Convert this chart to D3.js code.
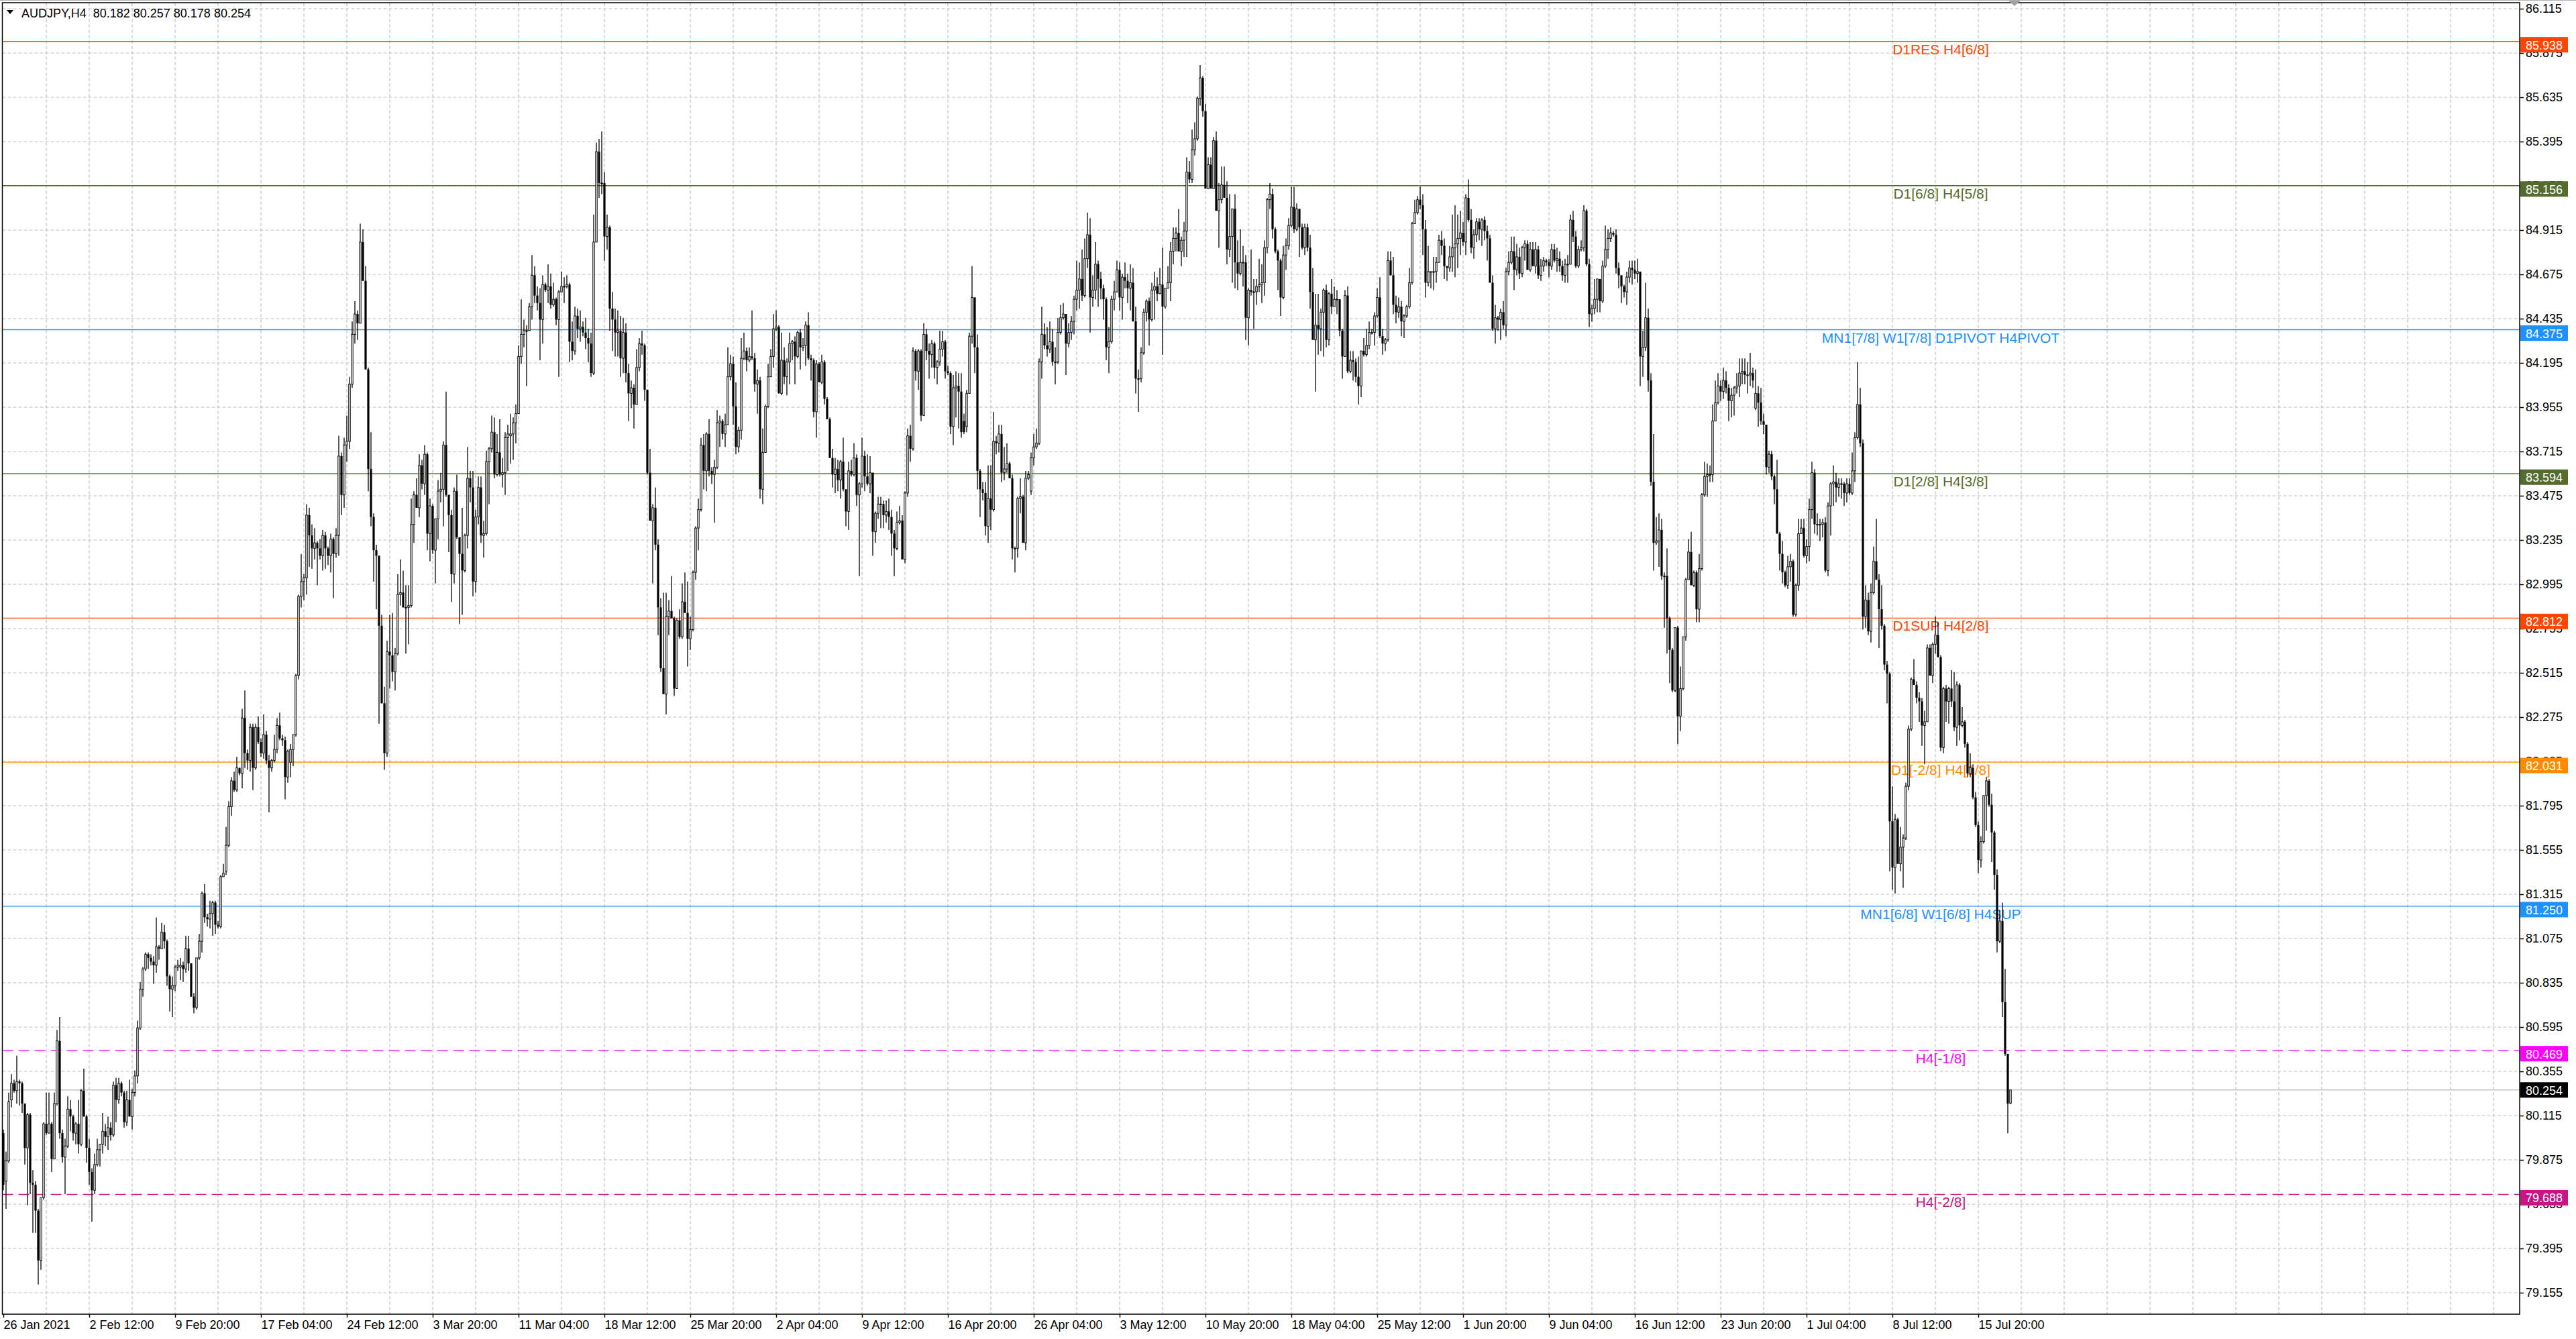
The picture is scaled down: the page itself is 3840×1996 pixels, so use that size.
<!DOCTYPE html>
<html>
<head>
<meta charset="utf-8">
<script src="https://cdn.jsdelivr.net/npm/d3@7"></script>
<style>
  body { margin: 0; background: #fff; }
  svg text { font-family: "Liberation Sans", Arial, sans-serif; }
</style>
</head>
<body>
<svg id="chart" width="3840" height="1996"></svg>
<script>
// AUDJPY H4 candles, [open, high, low, close], 26 Jan 2021 -> 19 Jul 2021
const candles = [
  // 0-106
  [80.02,80.04,79.71,79.74],[79.76,79.92,79.61,79.87],[79.87,80.24,79.86,80.19],[80.20,80.34,80.16,80.29],[80.29,80.31,80.24,80.25],
  [80.25,80.44,80.18,80.30],[80.30,80.31,80.17,80.29],[80.29,80.30,80.13,80.18],[80.18,80.18,79.85,79.94],[79.94,80.13,79.63,80.12],
  [80.12,80.13,79.69,79.75],[79.75,79.82,79.48,79.74],[79.74,79.76,79.48,79.60],[79.60,79.61,79.20,79.33],[79.33,79.67,79.28,79.67],
  [79.67,80.08,79.66,80.07],[80.07,80.24,80.01,80.02],[80.02,80.24,80.02,80.07],[80.07,80.08,79.81,79.88],[79.88,80.24,79.88,80.18],
  [80.18,80.58,80.17,80.52],[80.52,80.65,79.99,80.02],[80.02,80.04,79.86,79.89],[79.89,79.99,79.69,79.95],[79.95,80.22,79.94,80.15],
  [80.15,80.20,80.03,80.11],[80.11,80.12,79.98,80.02],[80.02,80.08,79.96,80.07],[80.07,80.20,79.91,79.96],[79.96,80.26,79.95,80.25],
  [80.25,80.37,80.11,80.11],[80.11,80.12,79.86,79.94],[79.94,79.99,79.74,79.81],[79.81,79.83,79.54,79.71],[79.71,79.91,79.69,79.85],
  [79.85,79.99,79.84,79.93],[79.93,79.96,79.84,79.96],[79.96,80.13,79.91,80.03],[80.03,80.07,79.95,80.00],[80.00,80.11,79.93,80.05],
  [80.05,80.08,79.98,80.01],[80.01,80.30,80.00,80.28],[80.28,80.32,80.08,80.20],[80.20,80.32,80.18,80.29],[80.29,80.30,80.22,80.24],
  [80.24,80.25,80.05,80.08],[80.08,80.25,80.06,80.20],[80.20,80.31,80.11,80.11],[80.11,80.26,80.04,80.24],[80.24,80.36,80.22,80.33],
  [80.33,80.63,80.29,80.59],[80.59,80.84,80.58,80.80],[80.80,80.92,80.76,80.91],[80.91,81.00,80.90,80.99],[80.99,81.00,80.91,80.97],
  [80.97,80.99,80.93,80.95],[80.95,80.98,80.83,80.93],[80.93,81.19,80.89,81.03],[81.03,81.04,80.96,81.02],[81.02,81.16,81.02,81.11],
  [81.11,81.15,81.02,81.06],[81.06,81.07,80.82,80.87],[80.87,80.88,80.68,80.80],[80.80,80.87,80.65,80.82],[80.82,80.93,80.79,80.92],
  [80.92,80.96,80.90,80.93],[80.92,80.97,80.85,80.93],[80.93,80.95,80.84,80.91],[80.91,81.09,80.89,81.02],[81.02,81.09,80.90,80.94],
  [80.94,80.94,80.76,80.76],[80.76,80.78,80.67,80.70],[80.70,80.97,80.69,80.97],[80.97,81.10,80.96,81.06],[81.06,81.33,81.00,81.32],
  [81.32,81.37,81.16,81.19],[81.19,81.21,81.14,81.18],[81.18,81.28,81.13,81.21],[81.21,81.28,81.09,81.27],[81.27,81.28,81.10,81.15],
  [81.15,81.17,81.13,81.14],[81.14,81.42,81.13,81.41],[81.41,81.48,81.41,81.43],[81.44,81.68,81.42,81.58],[81.58,81.82,81.57,81.79],
  [81.79,81.95,81.74,81.93],[81.93,81.98,81.87,81.88],[81.88,82.06,81.87,82.00],[82.00,82.00,81.96,81.97],[81.97,82.32,81.89,82.27],
  [82.27,82.42,82.00,82.08],[82.08,82.10,81.99,82.04],[82.04,82.24,81.98,82.22],[82.22,82.24,81.88,82.00],[82.00,82.24,81.99,82.22],
  [82.22,82.28,82.13,82.14],[82.14,82.16,82.06,82.08],[82.08,82.29,82.05,82.18],[82.18,82.20,82.02,82.04],[82.04,82.07,81.76,82.00],
  [82.00,82.05,81.98,82.04],[82.04,82.18,82.03,82.10],[82.10,82.27,82.08,82.23],[82.23,82.30,82.15,82.16],[82.16,82.18,82.12,82.15],
  [82.15,82.17,81.83,81.95],[81.95,82.10,81.92,82.09],
  // 107-213
  [82.03,82.13,81.95,82.10],[82.10,82.18,82.01,82.18],[82.18,82.51,82.17,82.50],[82.50,82.94,82.48,82.93],[82.93,83.16,82.87,83.01],
  [83.01,83.05,82.91,83.03],[83.03,83.43,82.94,83.37],[83.37,83.41,83.09,83.26],[83.26,83.32,83.08,83.19],[83.19,83.30,83.13,83.22],
  [83.22,83.23,82.99,83.19],[83.19,83.24,83.13,83.15],[83.15,83.29,83.07,83.26],[83.26,83.28,83.08,83.19],[83.19,83.20,83.10,83.15],
  [83.15,83.27,83.06,83.24],[83.24,83.25,82.92,83.16],[83.16,83.30,83.14,83.26],[83.26,83.80,83.15,83.69],[83.69,83.71,83.37,83.48],
  [83.48,83.79,83.41,83.75],[83.75,83.91,83.66,83.77],[83.77,84.12,83.73,84.08],[84.08,84.42,84.06,84.35],[84.35,84.53,84.30,84.46],
  [84.46,84.48,84.32,84.41],[84.41,84.95,84.41,84.85],[84.85,84.92,84.64,84.64],[84.64,84.72,84.16,84.16],[84.16,84.17,83.50,83.62],
  [83.62,83.82,83.31,83.36],[83.36,83.38,83.01,83.18],[83.18,83.21,82.86,83.15],[83.15,83.15,82.24,82.77],[82.77,82.83,82.35,82.35],
  [82.35,82.44,81.99,82.08],[82.08,82.69,82.06,82.63],[82.63,82.83,82.43,82.61],[82.61,82.84,82.47,82.52],[82.52,82.65,82.42,82.62],
  [82.62,83.05,82.61,82.94],[82.94,83.13,82.88,82.95],[82.95,83.07,82.87,82.87],[82.87,82.99,82.62,82.87],[82.87,82.99,82.67,82.88],
  [82.88,83.46,82.87,83.32],[83.32,83.50,83.22,83.48],[83.48,83.57,83.41,83.41],[83.41,83.70,83.36,83.64],[83.64,83.67,83.51,83.54],
  [83.54,83.75,83.48,83.70],[83.70,83.71,83.18,83.27],[83.27,83.46,83.12,83.42],[83.42,83.43,83.16,83.18],[83.18,83.20,83.00,83.35],
  [83.35,83.56,83.24,83.50],[83.50,83.60,83.44,83.51],[83.51,83.77,83.31,83.75],[83.75,84.04,83.47,83.48],[83.48,83.48,83.17,83.37],
  [83.37,83.40,82.90,83.05],[83.05,83.52,83.00,83.50],[83.50,83.59,83.24,83.25],[83.25,83.25,82.78,83.16],[83.16,83.41,82.83,83.07],
  [83.07,83.27,83.06,83.26],[83.26,83.74,83.19,83.57],[83.57,83.61,83.44,83.52],[83.52,83.61,82.93,83.01],[83.01,83.40,82.95,83.36],
  [83.36,83.58,83.32,83.52],[83.52,83.58,83.22,83.26],[83.26,83.34,83.14,83.27],[83.27,83.72,83.26,83.66],[83.66,83.74,83.43,83.73],
  [83.73,83.91,83.71,83.82],[83.82,83.90,83.57,83.59],[83.59,83.81,83.58,83.71],[83.71,83.89,83.58,83.59],[83.59,83.68,83.52,83.60],
  [83.60,83.82,83.48,83.79],[83.79,83.86,83.61,83.81],[83.80,83.92,83.65,83.81],[83.81,83.90,83.67,83.87],[83.87,83.97,83.76,83.92],
  [83.92,84.29,83.92,84.23],[84.23,84.54,84.19,84.35],[84.35,84.43,84.28,84.37],[84.37,84.40,84.07,84.37],[84.37,84.52,84.37,84.50],
  [84.50,84.78,84.43,84.67],[84.67,84.72,84.52,84.56],[84.56,84.61,84.48,84.52],[84.52,84.60,84.21,84.43],[84.43,84.67,84.30,84.62],
  [84.62,84.63,84.58,84.59],[84.59,84.73,84.52,84.61],[84.61,84.68,84.49,84.51],[84.51,84.63,84.50,84.54],[84.54,84.55,84.40,84.43],
  [84.43,84.59,84.12,84.58],[84.58,84.69,84.58,84.61],[84.61,84.66,84.52,84.61],[84.61,84.67,84.60,84.62],[84.62,84.63,84.20,84.31],
  [84.31,84.42,84.21,84.26],[84.26,84.50,84.24,84.45],
  // 214-320
  [84.45,84.49,84.33,84.38],[84.38,84.48,84.31,84.39],[84.39,84.42,84.34,84.36],[84.36,84.44,84.27,84.33],[84.33,84.38,84.20,84.30],
  [84.30,84.36,84.12,84.14],[84.14,85.00,84.13,84.85],[84.85,85.39,84.85,85.34],[85.34,85.41,85.09,85.17],[85.17,85.45,85.11,85.17],
  [85.17,85.23,84.75,84.88],[84.88,85.00,84.81,84.93],[84.93,84.94,84.37,84.49],[84.49,84.58,84.26,84.43],[84.43,84.49,84.23,84.36],
  [84.36,84.48,84.23,84.37],[84.37,84.45,84.12,84.22],[84.22,84.44,84.14,84.36],[84.36,84.41,84.09,84.14],[84.14,84.19,83.88,84.03],
  [84.03,84.10,83.95,84.06],[84.06,84.08,83.84,83.97],[83.97,84.27,83.97,84.17],[84.17,84.33,84.15,84.30],[84.30,84.37,84.24,84.29],
  [84.29,84.30,83.99,84.05],[84.05,84.05,83.59,83.60],[83.60,83.73,83.34,83.34],[83.34,83.43,83.00,83.41],[83.41,83.52,83.18,83.21],
  [83.21,83.24,82.72,82.87],[82.87,82.92,82.52,82.54],[82.54,82.95,82.40,82.40],[82.40,82.95,82.29,82.82],[82.82,82.91,82.72,82.85],
  [82.85,83.04,82.81,82.81],[82.81,82.82,82.39,82.43],[82.43,82.81,82.43,82.80],[82.80,82.86,82.70,82.71],[82.71,83.00,82.70,82.90],
  [82.90,83.06,82.84,82.84],[82.84,83.01,82.55,82.70],[82.70,82.82,82.64,82.75],[82.75,83.07,82.74,83.06],[83.06,83.31,83.02,83.30],
  [83.30,83.46,83.18,83.40],[83.40,83.79,83.39,83.75],[83.75,83.81,83.51,83.61],[83.61,83.82,83.50,83.81],[83.81,83.89,83.58,83.61],
  [83.61,83.63,83.54,83.59],[83.59,83.67,83.33,83.63],[83.63,83.94,83.62,83.87],[83.87,83.91,83.74,83.88],[83.88,83.89,83.78,83.81],
  [83.81,83.92,83.74,83.86],[83.86,84.28,83.86,84.12],[84.12,84.24,84.10,84.19],[84.19,84.23,83.86,83.96],[83.96,84.09,83.70,83.74],
  [83.74,83.85,83.71,83.83],[83.83,84.33,83.78,84.22],[84.22,84.36,84.21,84.26],[84.26,84.28,84.15,84.21],[84.21,84.28,84.20,84.23],
  [84.23,84.48,84.21,84.22],[84.22,84.25,84.04,84.08],[84.08,84.16,83.92,84.10],[84.10,84.12,83.46,83.51],[83.51,83.84,83.43,83.71],
  [83.71,83.97,83.71,83.96],[83.96,84.19,83.95,84.12],[84.12,84.27,84.12,84.23],[84.23,84.46,84.17,84.38],[84.38,84.48,84.37,84.39],
  [84.39,84.40,84.03,84.03],[84.03,84.36,84.02,84.21],[84.21,84.28,84.08,84.12],[84.12,84.22,84.02,84.20],[84.20,84.36,84.08,84.30],
  [84.30,84.32,84.21,84.31],[84.31,84.34,84.08,84.23],[84.23,84.37,84.22,84.36],[84.36,84.38,84.16,84.28],[84.28,84.33,84.26,84.29],
  [84.29,84.42,84.18,84.40],[84.40,84.47,84.21,84.22],[84.22,84.24,84.10,84.21],[84.21,84.22,83.90,83.93],[83.93,84.21,83.79,84.19],
  [84.19,84.20,84.09,84.09],[84.09,84.24,84.08,84.20],[84.20,84.21,83.97,84.00],[84.00,84.01,83.89,83.89],[83.89,83.90,83.68,83.68],
  [83.68,83.73,83.52,83.59],[83.59,83.68,83.49,83.62],[83.62,83.67,83.50,83.56],[83.56,83.67,83.46,83.66],[83.66,83.79,83.50,83.51],
  [83.51,83.51,83.31,83.39],[83.39,83.66,83.29,83.61],[83.61,83.67,83.58,83.59],[83.59,83.76,83.58,83.68],[83.68,83.70,83.42,83.48],
  [83.48,83.55,83.04,83.54],[83.54,83.79,83.52,83.69],
  // 321-428
  [83.69,83.72,83.50,83.58],[83.58,83.70,83.53,83.54],[83.54,83.69,83.49,83.60],[83.60,83.60,83.15,83.28],[83.28,83.39,83.22,83.38],
  [83.38,83.47,83.35,83.43],[83.43,83.47,83.30,83.43],[83.43,83.45,83.30,83.37],[83.37,83.45,83.33,83.39],[83.39,83.46,83.29,83.36],
  [83.36,83.40,83.15,83.27],[83.27,83.29,83.04,83.19],[83.19,83.39,83.18,83.33],[83.33,83.42,83.32,83.34],[83.34,83.37,83.13,83.13],
  [83.13,83.50,83.11,83.49],[83.49,83.84,83.47,83.80],[83.80,83.86,83.66,83.73],[83.73,84.28,83.72,84.26],[84.26,84.27,84.10,84.15],
  [84.15,84.27,84.05,84.26],[84.26,84.27,83.88,83.91],[83.91,84.41,83.91,84.35],[84.35,84.38,84.21,84.26],[84.26,84.30,84.11,84.24],
  [84.24,84.32,84.17,84.30],[84.30,84.31,84.11,84.17],[84.17,84.21,84.08,84.20],[84.20,84.37,84.18,84.27],[84.27,84.37,84.23,84.31],
  [84.31,84.32,84.11,84.15],[84.15,84.18,84.13,84.14],[84.14,84.15,83.81,83.85],[83.85,84.13,83.75,84.06],[84.06,84.15,83.90,84.07],
  [84.07,84.14,83.84,84.04],[84.04,84.14,83.79,83.82],[83.88,83.92,83.81,83.82],[83.85,84.05,83.82,84.03],[84.03,84.36,84.03,84.34],
  [84.34,84.72,84.30,84.55],[84.55,84.55,84.14,84.28],[84.28,84.35,83.51,83.61],[83.61,83.62,83.36,83.51],[83.51,83.55,83.45,83.49],
  [83.49,83.55,83.26,83.31],[83.31,83.64,83.22,83.46],[83.46,83.64,83.29,83.40],[83.40,83.93,83.39,83.77],[83.77,83.80,83.70,83.76],
  [83.76,83.86,83.71,83.81],[83.81,83.86,83.55,83.60],[83.60,83.74,83.56,83.62],[83.62,83.76,83.60,83.65],[83.65,83.66,83.57,83.57],
  [83.57,83.59,83.13,83.19],[83.19,83.20,83.06,83.19],[83.19,83.47,83.14,83.46],[83.46,83.57,83.38,83.47],[83.47,83.48,83.22,83.22],
  [83.22,83.61,83.18,83.57],[83.57,83.61,83.56,83.59],[83.50,83.71,83.48,83.68],[83.68,83.81,83.64,83.74],[83.74,83.84,83.73,83.76],
  [83.76,84.22,83.75,84.20],[84.20,84.50,84.11,84.35],[84.35,84.41,84.27,84.29],[84.29,84.39,84.23,84.27],[84.27,84.42,84.25,84.31],
  [84.31,84.38,84.18,84.20],[84.20,84.28,84.08,84.20],[84.20,84.44,84.19,84.36],[84.36,84.51,84.35,84.44],[84.44,84.52,84.43,84.46],
  [84.46,84.46,84.13,84.30],[84.30,84.41,84.28,84.36],[84.36,84.45,84.32,84.42],[84.42,84.56,84.35,84.54],[84.54,84.75,84.48,84.59],
  [84.59,84.74,84.49,84.65],[84.65,84.81,84.53,84.56],[84.56,84.87,84.55,84.76],[84.76,85.01,84.71,84.89],[84.89,84.98,84.36,84.55],
  [84.55,84.67,84.50,84.59],[84.59,84.85,84.54,84.73],[84.73,84.75,84.50,84.65],[84.65,84.69,84.54,84.60],[84.60,84.62,84.43,84.54],
  [84.54,84.55,84.21,84.28],[84.28,84.39,84.14,84.31],[84.31,84.56,84.30,84.54],[84.54,84.64,84.48,84.58],[84.58,84.75,84.58,84.70],
  [84.70,84.74,84.48,84.55],[84.55,84.68,84.43,84.66],[84.66,84.74,84.60,84.64],[84.64,84.68,84.52,84.60],[84.60,84.73,84.48,84.63],
  [84.63,84.71,84.42,84.42],[84.42,84.50,84.03,84.11],[84.11,84.16,83.93,84.11],[84.11,84.28,84.09,84.25],[84.25,84.49,84.24,84.47],
  [84.47,84.54,84.42,84.53],[84.53,84.55,84.29,84.43],[84.43,84.63,84.42,84.59],
  // 429-536
  [84.59,84.69,84.43,84.61],[84.61,84.66,84.53,84.57],[84.57,84.71,84.57,84.62],[84.62,84.82,84.24,84.50],[84.50,84.60,84.49,84.60],
  [84.60,84.72,84.60,84.63],[84.63,84.85,84.53,84.80],[84.80,84.93,84.73,84.87],[84.87,84.93,84.80,84.90],[84.90,85.03,84.80,84.80],
  [84.80,84.88,84.72,84.86],[84.86,84.96,84.77,84.91],[84.91,85.31,84.77,85.23],[85.23,85.29,85.17,85.19],[85.19,85.46,85.17,85.35],
  [85.35,85.50,85.32,85.41],[85.41,85.64,85.40,85.63],[85.63,85.81,85.59,85.74],[85.74,85.75,85.53,85.56],[85.56,85.60,85.14,85.14],
  [85.14,85.31,85.14,85.27],[85.27,85.31,85.14,85.14],[85.14,85.42,85.14,85.40],[85.40,85.45,85.02,85.02],[85.02,85.17,84.82,85.08],
  [85.08,85.26,85.06,85.16],[85.16,85.26,85.09,85.09],[85.09,85.18,84.73,84.81],[84.81,85.11,84.77,84.88],[84.88,85.03,84.63,85.03],
  [85.03,85.11,84.60,84.74],[84.74,84.86,84.59,84.68],[84.68,84.92,84.67,84.74],[84.74,84.83,84.61,84.74],[84.74,84.78,84.32,84.44],
  [84.44,84.60,84.29,84.59],[84.59,84.81,84.56,84.58],[84.58,84.65,84.38,84.58],[84.58,84.65,84.51,84.61],[84.61,84.76,84.58,84.62],
  [84.62,84.73,84.52,84.63],[84.63,84.86,84.56,84.82],[84.82,85.09,84.79,85.08],[85.08,85.17,85.03,85.11],[85.11,85.14,84.87,84.92],
  [84.92,84.93,84.79,84.80],[84.80,84.81,84.59,84.75],[84.75,84.76,84.45,84.55],[84.55,84.83,84.54,84.78],[84.78,84.87,84.70,84.83],
  [84.83,84.98,84.81,84.94],[84.94,85.15,84.93,85.04],[85.04,85.15,84.90,84.92],[84.92,85.06,84.91,85.03],[85.03,85.03,84.77,84.93],
  [84.93,84.95,84.81,84.82],[84.82,84.95,84.78,84.93],[84.93,84.95,84.80,84.82],[84.82,84.89,84.49,84.58],[84.58,84.71,84.32,84.32],
  [84.32,84.57,84.04,84.40],[84.40,84.57,84.24,84.38],[84.38,84.49,84.26,84.47],[84.47,84.60,84.23,84.59],[84.59,84.62,84.28,84.32],
  [84.32,84.58,84.29,84.57],[84.57,84.65,84.46,84.50],[84.50,84.61,84.50,84.54],[84.54,84.59,84.46,84.54],[84.54,84.54,84.34,84.37],
  [84.37,84.38,84.11,84.23],[84.23,84.59,84.23,84.56],[84.56,84.61,84.14,84.15],[84.15,84.26,84.14,84.21],[84.21,84.26,84.10,84.20],
  [84.20,84.22,84.09,84.12],[84.12,84.23,83.97,84.07],[84.07,84.26,84.01,84.26],[84.26,84.33,84.23,84.24],[84.24,84.38,84.23,84.29],
  [84.29,84.42,84.27,84.36],[84.36,84.38,84.35,84.36],[84.36,84.47,84.29,84.45],[84.45,84.60,84.44,84.55],[84.55,84.66,84.33,84.34],
  [84.34,84.38,84.24,84.30],[84.30,84.33,84.26,84.32],[84.32,84.80,84.31,84.75],[84.75,84.80,84.67,84.67],[84.67,84.77,84.46,84.51],
  [84.51,84.56,84.41,84.47],[84.47,84.55,84.44,84.50],[84.50,84.53,84.34,84.42],[84.42,84.46,84.33,84.45],[84.45,84.51,84.44,84.50],
  [84.50,84.71,84.49,84.63],[84.63,84.96,84.62,84.95],[84.95,85.08,84.95,85.01],[85.01,85.10,85.00,85.08],[85.08,85.15,85.03,85.05],
  [85.05,85.11,84.78,84.92],[84.92,84.97,84.55,84.63],[84.63,84.83,84.61,84.69],[84.69,84.69,84.60,84.69],[84.69,84.77,84.59,84.69],
  [84.69,84.77,84.63,84.74],[84.74,84.89,84.74,84.86],[84.86,84.91,84.78,84.83],
  // 537-643
  [84.83,84.87,84.65,84.72],[84.72,84.72,84.64,84.71],[84.71,84.83,84.69,84.77],[84.77,85.00,84.69,84.82],[84.82,85.05,84.66,84.84],
  [84.84,85.00,84.71,84.87],[84.87,85.02,84.78,84.90],[84.90,84.96,84.83,84.85],[84.85,85.11,84.78,85.09],[85.09,85.19,84.96,84.97],
  [84.97,85.03,84.79,84.82],[84.82,84.92,84.76,84.89],[84.89,84.98,84.85,84.96],[84.96,84.98,84.86,84.92],[84.92,84.98,84.83,84.97],
  [84.97,84.99,84.86,84.91],[84.91,84.94,84.75,84.87],[84.87,84.89,84.63,84.63],[84.63,84.67,84.37,84.38],[84.38,84.51,84.30,84.44],
  [84.44,84.45,84.37,84.43],[84.43,84.49,84.32,84.47],[84.47,84.53,84.38,84.40],[84.40,84.71,84.34,84.69],[84.69,84.80,84.67,84.74],
  [84.74,84.88,84.73,84.80],[84.80,84.88,84.59,84.70],[84.70,84.84,84.67,84.77],[84.77,84.82,84.65,84.68],[84.68,84.83,84.66,84.82],
  [84.82,84.86,84.75,84.84],[84.84,84.86,84.70,84.70],[84.70,84.85,84.69,84.81],[84.81,84.85,84.72,84.72],[84.72,84.85,84.68,84.81],
  [84.81,84.83,84.65,84.67],[84.67,84.76,84.64,84.72],[84.72,84.77,84.69,84.75],[84.75,84.76,84.72,84.74],[84.74,84.76,84.66,84.72],
  [84.72,84.84,84.70,84.81],[84.81,84.84,84.74,84.75],[84.75,84.82,84.69,84.76],[84.76,84.80,84.69,84.72],[84.72,84.75,84.64,84.67],
  [84.67,84.76,84.63,84.73],[84.73,84.78,84.63,84.73],[84.73,85.00,84.73,84.97],[84.97,85.02,84.85,84.88],[84.88,84.91,84.71,84.72],
  [84.72,84.83,84.71,84.81],[84.81,84.86,84.80,84.82],[84.82,85.05,84.80,85.02],[85.02,85.03,84.72,84.73],[84.73,84.76,84.39,84.46],
  [84.46,84.51,84.42,84.49],[84.49,84.65,84.46,84.54],[84.54,84.65,84.47,84.65],[84.65,84.65,84.47,84.53],[84.53,84.75,84.52,84.72],
  [84.72,84.94,84.71,84.81],[84.81,84.92,84.76,84.87],[84.87,84.93,84.85,84.90],[84.90,84.91,84.88,84.89],[84.89,84.92,84.68,84.71],
  [84.71,84.74,84.60,84.67],[84.67,84.67,84.52,84.61],[84.61,84.62,84.55,84.58],[84.58,84.69,84.51,84.66],[84.66,84.75,84.63,84.71],
  [84.71,84.75,84.62,84.70],[84.70,84.75,84.65,84.68],[84.68,84.76,84.63,84.69],[84.69,84.69,84.07,84.23],[84.23,84.37,84.12,84.28],
  [84.28,84.63,84.26,84.44],[84.44,84.49,84.04,84.10],[84.10,84.14,83.53,83.55],[83.55,83.81,83.07,83.22],[83.22,83.36,83.21,83.23],
  [83.23,83.38,83.09,83.29],[83.29,83.35,83.02,83.04],[83.04,83.06,82.76,83.04],[83.04,83.19,82.62,82.81],[82.81,82.82,82.46,82.64],
  [82.64,82.65,82.41,82.42],[82.42,82.76,82.41,82.76],[82.76,82.77,82.13,82.28],[82.28,82.55,82.20,82.43],[82.43,82.71,82.42,82.71],
  [82.71,83.03,82.69,83.02],[83.02,83.24,83.02,83.17],[83.17,83.28,82.99,82.99],[82.99,83.07,82.98,83.06],[83.06,83.07,82.79,82.86],
  [82.86,83.16,82.79,83.08],[83.08,83.49,83.07,83.48],[83.48,83.66,83.47,83.58],[83.58,83.65,83.47,83.59],[83.59,83.64,83.55,83.59],
  [83.59,83.97,83.55,83.88],[83.88,84.10,83.88,83.98],[83.98,84.14,83.97,84.07],[84.07,84.10,83.99,84.04],[84.04,84.17,84.00,84.10],
  [84.10,84.15,84.03,84.06],[84.06,84.08,83.88,83.99],
  // 644-748
  [83.99,84.06,83.90,84.02],[84.02,84.07,83.91,84.06],[84.06,84.14,84.03,84.07],[84.07,84.22,84.01,84.14],[84.14,84.22,84.08,84.15],
  [84.15,84.22,84.08,84.13],[84.13,84.20,84.03,84.13],[84.13,84.25,84.07,84.14],[84.14,84.17,84.06,84.10],[83.95,84.16,83.94,84.03],
  [84.03,84.07,83.85,83.98],[83.98,84.06,83.86,83.88],[83.88,83.92,83.81,83.86],[83.86,83.86,83.59,83.63],[83.63,83.72,83.60,83.70],
  [83.70,83.72,83.56,83.58],[83.58,83.59,83.43,83.51],[83.51,83.67,83.27,83.27],[83.27,83.28,83.07,83.16],[83.16,83.23,83.00,83.06],
  [83.06,83.07,82.98,82.99],[82.99,83.15,82.97,83.09],[83.09,83.16,83.01,83.12],[83.12,83.13,82.82,82.83],[82.83,83.00,82.82,82.99],
  [82.99,83.35,82.96,83.27],[83.27,83.35,83.27,83.30],[83.30,83.35,83.14,83.15],[83.15,83.24,83.11,83.20],[83.20,83.46,83.12,83.40],
  [83.40,83.66,83.35,83.60],[83.60,83.62,83.27,83.32],[83.32,83.38,83.26,83.32],[83.32,83.35,83.23,83.32],[83.32,83.35,83.25,83.33],
  [83.33,83.36,83.06,83.07],[83.07,83.44,83.04,83.42],[83.42,83.55,83.26,83.54],[83.54,83.64,83.42,83.55],[83.55,83.60,83.44,83.52],
  [83.52,83.57,83.47,83.54],[83.54,83.57,83.46,83.54],[83.54,83.55,83.42,83.49],[83.49,83.57,83.44,83.54],[83.54,83.57,83.48,83.49],
  [83.49,83.71,83.48,83.61],[83.61,83.82,83.55,83.79],[83.79,84.20,83.78,83.97],[83.97,84.06,83.74,83.76],[83.76,83.78,82.75,82.82],
  [82.82,82.99,82.76,82.91],[82.91,82.95,82.72,82.74],[82.74,83.00,82.68,82.95],[82.95,83.20,82.94,83.12],[83.12,83.35,83.02,83.02],
  [83.02,83.05,82.65,82.86],[82.86,82.99,82.75,82.77],[82.77,82.78,82.53,82.56],[82.56,82.58,82.35,82.51],[82.51,82.52,81.44,81.71],
  [81.71,81.90,81.34,81.46],[81.46,81.75,81.32,81.72],[81.72,81.73,81.48,81.48],[81.48,81.68,81.44,81.57],[81.57,81.64,81.35,81.62],
  [81.62,81.92,81.61,81.90],[81.90,82.23,81.88,82.21],[82.21,82.49,82.20,82.48],[82.48,82.59,82.45,82.45],[82.45,82.47,82.35,82.38],
  [82.38,82.41,82.25,82.36],[82.36,82.38,82.12,82.23],[82.23,82.31,82.02,82.25],[82.25,82.67,82.25,82.65],[82.65,82.67,82.50,82.50],
  [82.50,82.68,82.46,82.67],[82.67,82.82,82.62,82.72],[82.72,82.79,82.60,82.60],[82.60,82.61,82.09,82.11],[82.11,82.44,82.08,82.43],
  [82.43,82.45,82.25,82.36],[82.36,82.44,82.24,82.43],[82.43,82.53,82.33,82.36],[82.36,82.52,82.20,82.22],[82.22,82.47,82.12,82.45],
  [82.45,82.46,82.15,82.23],[82.23,82.33,82.22,82.25],[82.25,82.26,82.11,82.13],[82.13,82.14,81.95,81.97],[81.97,82.08,81.95,82.00],
  [82.00,82.02,81.83,81.84],[81.84,81.87,81.68,81.69],[81.69,81.71,81.43,81.50],[81.50,81.63,81.46,81.60],[81.60,81.85,81.59,81.85],
  [81.85,81.95,81.66,81.93],[81.93,81.94,81.79,81.80],[81.80,81.86,81.49,81.65],[81.65,81.66,81.34,81.42],[81.42,81.45,81.00,81.06],
  [81.06,81.23,81.05,81.17],[81.17,81.27,80.65,80.73],[80.73,80.91,80.44,80.45],[80.45,80.45,80.02,80.18],[80.182,80.257,80.178,80.254]
];

const timeLabels = ["26 Jan 2021","2 Feb 12:00","9 Feb 20:00","17 Feb 04:00","24 Feb 12:00","3 Mar 20:00",
  "11 Mar 04:00","18 Mar 12:00","25 Mar 20:00","2 Apr 04:00","9 Apr 12:00","16 Apr 20:00",
  "26 Apr 04:00","3 May 12:00","10 May 20:00","18 May 04:00","25 May 12:00","1 Jun 20:00",
  "9 Jun 04:00","16 Jun 12:00","23 Jun 20:00","1 Jul 04:00","8 Jul 12:00","15 Jul 20:00"];
const barsPerLabel = 32;

const priceTicks = [86.115,85.875,85.635,85.395,85.155,84.915,84.675,84.435,84.195,83.955,
  83.715,83.475,83.235,82.995,82.755,82.515,82.275,82.035,81.795,81.555,
  81.315,81.075,80.835,80.595,80.355,80.115,79.875,79.635,79.395,79.155];

const levelPrices = [85.938, 85.156, 84.375, 83.594, 82.812, 82.031, 81.250, 80.469, 79.688];
const levelNames = ["D1RES H4[6/8]", "D1[6/8] H4[5/8]", "MN1[7/8] W1[7/8] D1PIVOT H4PIVOT", "D1[2/8] H4[3/8]",
  "D1SUP H4[2/8]", "D1[-2/8] H4[1/8]", "MN1[6/8] W1[6/8] H4SUP", "H4[-1/8]", "H4[-2/8]"];
const currentPrice = 80.254;
const title = "AUDJPY,H4  80.182 80.257 80.178 80.254";

// styles
const levelColors = ["#FF4500", "#556B2F", "#1E90FF", "#556B2F", "#FF4500", "#FF8C00", "#1E90FF", "#FF00FF", "#C71585"];
const levelDashed = [false, false, false, false, false, false, false, true, true];

const svg = d3.select("#chart");
const L = 3.5, T = 4, R = 3756, B = 1959;

const x = d3.scaleLinear().domain([0, barsPerLabel]).range([5, 133]);
const y = d3.scaleLinear().domain([86.115, 79.155]).range([13, 1927]);

// grid
const grid = svg.append("g");
grid.selectAll("line.h").data(priceTicks).enter().append("line")
  .attr("x1", L).attr("x2", R).attr("y1", d => y(d)).attr("y2", d => y(d))
  .attr("stroke", "#c0c0c0").attr("stroke-width", 1.2).attr("stroke-dasharray", "5,3");
const vBars = d3.range(barsPerLabel / 2, 1000, barsPerLabel / 2).filter(b => x(b) < R - 2);
grid.selectAll("line.v").data(vBars).enter().append("line")
  .attr("x1", d => x(d)).attr("x2", d => x(d)).attr("y1", T).attr("y2", B)
  .attr("stroke", "#c0c0c0").attr("stroke-width", 1.2).attr("stroke-dasharray", "5,3");

// level lines
const levels = levelPrices.map((p, i) => ({ p, name: levelNames[i], color: levelColors[i], dashed: levelDashed[i] }));
svg.append("g").selectAll("line").data(levels).enter().append("line")
  .attr("x1", L).attr("x2", R).attr("y1", d => y(d.p)).attr("y2", d => y(d.p))
  .attr("stroke", d => d.color).attr("stroke-width", 1.4)
  .attr("stroke-dasharray", d => d.dashed ? "16,8" : null);

svg.append("line").attr("x1", L).attr("x2", R).attr("y1", y(currentPrice)).attr("y2", y(currentPrice))
  .attr("stroke", "#c0c0c0").attr("stroke-width", 1.4);

svg.append("g").selectAll("text").data(levels).enter().append("text")
  .attr("x", 2893).attr("y", d => y(d.p) + 19)
  .attr("text-anchor", "middle").attr("font-size", 21)
  .attr("fill", d => d.color).text(d => d.name);

// candles
const cg = svg.append("g");
cg.selectAll("line").data(candles).enter().append("line")
  .attr("x1", (d, i) => x(i)).attr("x2", (d, i) => x(i))
  .attr("y1", d => y(Math.max(d[1], d[0], d[3]))).attr("y2", d => y(Math.min(d[2], d[0], d[3])))
  .attr("stroke", "#000").attr("stroke-width", 1.3);
cg.selectAll("rect").data(candles).enter().append("rect")
  .attr("x", (d, i) => d[3] >= d[0] ? x(i) - 1.2 : x(i) - 1.6)
  .attr("width", d => d[3] >= d[0] ? 2.4 : 3.2)
  .attr("y", d => y(Math.max(d[0], d[3])))
  .attr("height", d => Math.max(1, Math.abs(y(d[0]) - y(d[3]))))
  .attr("fill", d => d[3] >= d[0] ? "#fff" : "#000")
  .attr("stroke", "#000").attr("stroke-width", d => d[3] >= d[0] ? 1 : 0);

// frame
svg.append("rect").attr("x", L).attr("y", T).attr("width", R - L).attr("height", B - T)
  .attr("fill", "none").attr("stroke", "#000").attr("stroke-width", 1.5);
svg.append("line").attr("x1", 0).attr("x2", 3840).attr("y1", 0.5).attr("y2", 0.5).attr("stroke", "#b0b0b0");

// price axis
const yAxis = d3.axisRight(y).tickValues(priceTicks).tickFormat(d3.format(".3f")).tickSize(6).tickPadding(3);
svg.append("g").attr("transform", `translate(${R},0)`).call(yAxis)
  .attr("font-size", 18).attr("font-family", '"Liberation Sans", Arial, sans-serif')
  .call(g => g.select(".domain").remove())
  .call(g => g.selectAll(".tick line").attr("stroke-width", 1.5))
  .call(g => g.selectAll(".tick text").attr("fill", "#000"));

// time axis
const timeBars = timeLabels.map((t, i) => i * barsPerLabel);
const xAxis = d3.axisBottom(x).tickValues(timeBars).tickFormat((d, i) => timeLabels[i]).tickSize(5).tickPadding(4);
svg.append("g").attr("transform", `translate(0,${B})`).call(xAxis)
  .attr("font-size", 18).attr("font-family", '"Liberation Sans", Arial, sans-serif')
  .call(g => g.select(".domain").remove())
  .call(g => g.selectAll(".tick line").attr("stroke-width", 1.5))
  .call(g => g.selectAll(".tick text").attr("fill", "#000").attr("text-anchor", "start").attr("x", 0));

// price boxes on the axis (drawn over the scale, as the terminal does)
const boxes = svg.append("g");
const boxData = levels.map(d => ({ p: d.p, color: d.color, top: -6.5, base: 12 }))
  .concat([{ p: currentPrice, color: "#000", top: -11.5, base: 7 }]);
boxes.selectAll("rect").data(boxData).enter().append("rect")
  .attr("x", R + 1).attr("y", d => y(d.p) + d.top).attr("width", 71).attr("height", 23)
  .attr("fill", d => d.color);
boxes.selectAll("text").data(boxData).enter().append("text")
  .attr("x", R + 9).attr("y", d => y(d.p) + d.base).attr("font-size", 18).attr("fill", "#fff")
  .text(d => d3.format(".3f")(d.p));

// title
svg.append("path").attr("d", "M10,15 L20,15 L15,21 Z").attr("fill", "#000");
svg.append("text").attr("x", 32).attr("y", 26).attr("font-size", 18).attr("fill", "#000")
  .attr("xml:space", "preserve").style("white-space", "pre").text(title);

// chart shift marker
svg.append("path").attr("d", "M2994,1 L3012,1 L3003,9 Z").attr("fill", "#a0a0a0");
</script>
</body>
</html>
